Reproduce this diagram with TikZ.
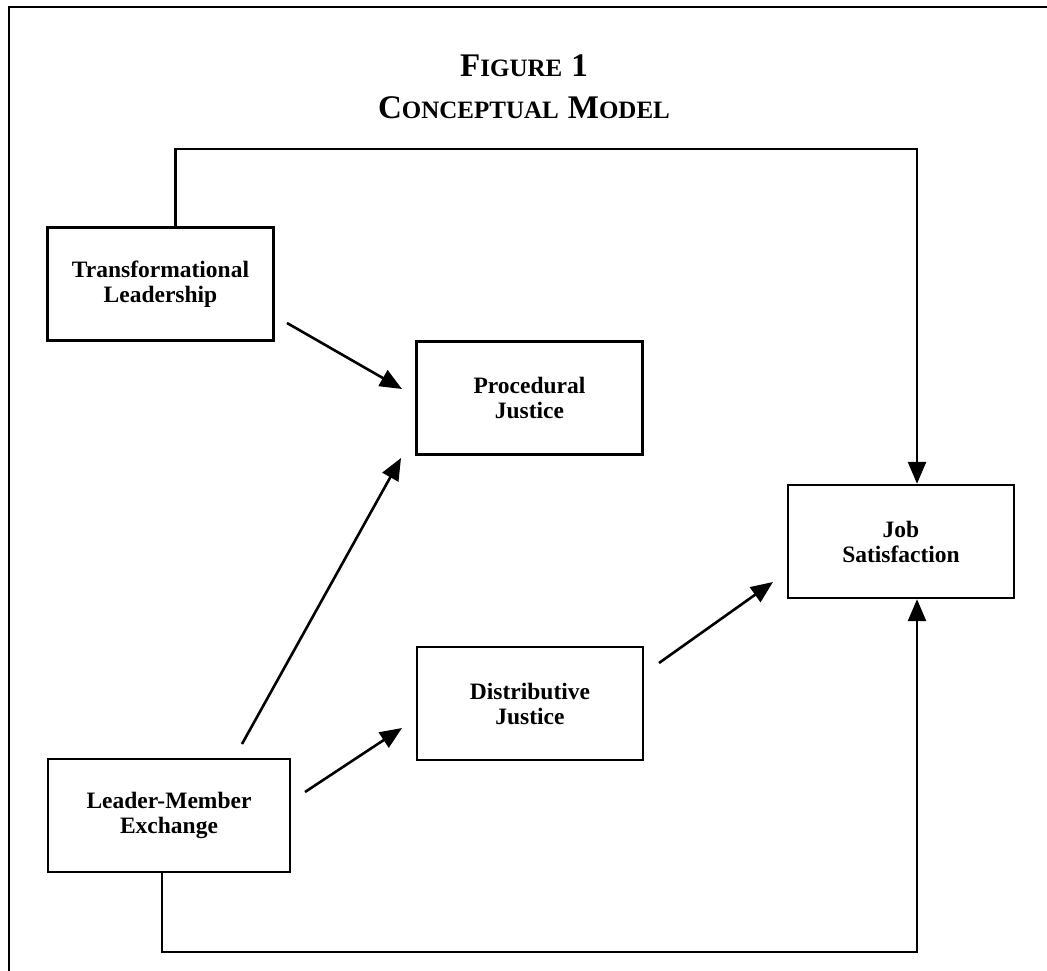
\documentclass[tikz,border=0pt]{standalone}
\usepackage{fontspec}
\setmainfont{Liberation Serif}
\usetikzlibrary{arrows.meta}
\begin{document}
\begin{tikzpicture}[x=1pt,y=-1pt,
  box/.style={draw,line width=2.4pt,minimum width=226pt,minimum height=113pt,align=center,
    font=\fontsize{23.5}{25}\selectfont\bfseries,inner sep=0pt},
  conn/.style={line width=2.6pt},
  arr/.style={conn,-{Triangle[length=22pt,width=18pt]}},
  ttl/.style={font=\bfseries},
]
\useasboundingbox (0,0) rectangle (1047,971);
\coordinate (fa) at (1047,7);
\coordinate (fb) at (9,7);
\coordinate (fc) at (9,971);
\draw[line width=2.2pt] (fa) -- (fb) -- (fc);

\node[ttl] (t1) at (524,66) {{\fontsize{33}{33}\selectfont F}{\fontsize{25}{25}\selectfont IGURE}\hspace{9pt}{\fontsize{33}{33}\selectfont 1}};
\node[ttl] (t2) at (524,108) {{\fontsize{33}{33}\selectfont C}{\fontsize{25}{25}\selectfont ONCEPTUAL}\hspace{9pt}{\fontsize{33}{33}\selectfont M}{\fontsize{25}{25}\selectfont ODEL}};

\node[box] (TL) at (160.5,284) {Transformational\\Leadership};
\node[box] (PJ) at (529.5,398) {Procedural\\Justice};
\node[box] (JS) at (901,541.5) {Job\\Satisfaction};
\node[box] (DJ) at (530,703.5) {Distributive\\Justice};
\node[box,minimum width=242pt] (LMX) at (169,815.5) {Leader-Member\\Exchange};

\coordinate (topturn) at (917,149);
\coordinate (botturn) at (917,952);
\draw[arr] ([xshift=15pt]TL.north) |- (topturn) -- (JS.north -| topturn);
\draw[arr] ([xshift=-7pt]LMX.south) |- (botturn) -- (JS.south -| botturn);

\coordinate (a1s) at (287,323);
\coordinate (a1e) at (402,389);
\coordinate (a2s) at (242,744);
\coordinate (a2e) at (401,458);
\coordinate (a3s) at (305,792);
\coordinate (a3e) at (402,728);
\coordinate (a4s) at (659,663);
\coordinate (a4e) at (773,582);
\draw[arr] (a1s) -- (a1e);
\draw[arr] (a2s) -- (a2e);
\draw[arr] (a3s) -- (a3e);
\draw[arr] (a4s) -- (a4e);
\end{tikzpicture}
\end{document}
